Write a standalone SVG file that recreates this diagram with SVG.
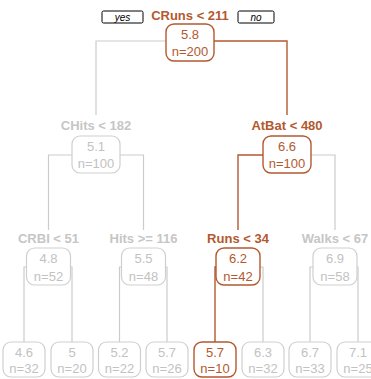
<svg xmlns="http://www.w3.org/2000/svg" width="371" height="379" viewBox="0 0 371 379">
<style>
.c{fill:none;stroke:#CCCCCC;stroke-width:1.2}
.ch{fill:none;stroke:#B3592F;stroke-width:1.4}
.b{fill:#fff;stroke:#CFCFCF;stroke-width:1.2}
.bh{fill:#fff;stroke:#B3592F;stroke-width:1.4}
.t{font-family:"Liberation Sans",Arial,sans-serif;font-size:13px;text-anchor:middle;fill:#C2C2C2}
.th{font-family:"Liberation Sans",Arial,sans-serif;font-size:13px;text-anchor:middle;fill:#B3592F}
.l{font-family:"Liberation Sans",Arial,sans-serif;font-size:13px;font-weight:bold;text-anchor:middle;fill:#C6C6C6}
.lh{font-family:"Liberation Sans",Arial,sans-serif;font-size:13px;font-weight:bold;text-anchor:middle;fill:#B3592F}
.yn{fill:#fff;stroke:#000;stroke-width:1}
.ynt{font-family:"Liberation Sans",Arial,sans-serif;font-size:10px;font-style:italic;text-anchor:middle;fill:#000}
</style>
<rect width="371" height="379" fill="#fff"/>
<g id="connectors">
<path class="c" d="M166,41 H96 V115"/>
<path class="ch" d="M214,41 H287 V115"/>
<path class="c" d="M72,155 H48.5 V230"/>
<path class="c" d="M120,155 H143.5 V230"/>
<path class="ch" d="M263,155 H238 V230"/>
<path class="c" d="M311,155 H335 V230"/>
<path class="c" d="M26.5,267 H24 V342"/>
<path class="c" d="M70.5,267 H72 V342"/>
<path class="c" d="M121.5,267 H119.5 V342"/>
<path class="c" d="M165.5,267 H167 V342"/>
<path class="ch" d="M216,267 H215 V342"/>
<path class="c" d="M260,267 H263 V342"/>
<path class="c" d="M313,267 H310 V342"/>
<path class="c" d="M357,267 H358 V342"/>
</g>
<g id="yesno">
<rect class="yn" x="102" y="11" width="41" height="12" rx="1.5"/>
<text class="ynt" x="122.5" y="20.5">yes</text>
<rect class="yn" x="238" y="11" width="36" height="12" rx="1.5"/>
<text class="ynt" x="256" y="20.5">no</text>
</g>
<g id="root">
<text class="lh" x="190" y="20">CRuns &lt; 211</text>
<rect class="bh" x="166" y="24" width="48" height="37" rx="8"/>
<text class="th" x="190" y="39">5.8</text>
<text class="th" x="190" y="56">n=200</text>
</g>
<g id="chits">
<text class="l" x="96" y="130">CHits &lt; 182</text>
<rect class="b" x="72" y="136" width="48" height="37" rx="8"/>
<text class="t" x="96" y="151">5.1</text>
<text class="t" x="96" y="168">n=100</text>
</g>
<g id="atbat">
<text class="lh" x="287" y="130">AtBat &lt; 480</text>
<rect class="bh" x="263" y="136" width="48" height="37" rx="8"/>
<text class="th" x="287" y="151">6.6</text>
<text class="th" x="287" y="168">n=100</text>
</g>
<g id="crbi">
<text class="l" x="48.5" y="243">CRBI &lt; 51</text>
<rect class="b" x="26.5" y="248" width="44" height="37" rx="8"/>
<text class="t" x="48.5" y="263">4.8</text>
<text class="t" x="48.5" y="281">n=52</text>
</g>
<g id="hits">
<text class="l" x="143.5" y="243">Hits &gt;= 116</text>
<rect class="b" x="121.5" y="248" width="44" height="37" rx="8"/>
<text class="t" x="143.5" y="263">5.5</text>
<text class="t" x="143.5" y="281">n=48</text>
</g>
<g id="runs">
<text class="lh" x="238" y="243">Runs &lt; 34</text>
<rect class="bh" x="216" y="248" width="44" height="37" rx="8"/>
<text class="th" x="238" y="263">6.2</text>
<text class="th" x="238" y="281">n=42</text>
</g>
<g id="walks">
<text class="l" x="335" y="243">Walks &lt; 67</text>
<rect class="b" x="313" y="248" width="44" height="37" rx="8"/>
<text class="t" x="335" y="263">6.9</text>
<text class="t" x="335" y="281">n=58</text>
</g>
<g id="leaf1">
<rect class="b" x="3" y="342" width="42" height="35" rx="8"/>
<text class="t" x="24" y="357">4.6</text>
<text class="t" x="24" y="373">n=32</text>
</g>
<g id="leaf2">
<rect class="b" x="51" y="342" width="42" height="35" rx="8"/>
<text class="t" x="72" y="357">5</text>
<text class="t" x="72" y="373">n=20</text>
</g>
<g id="leaf3">
<rect class="b" x="98.5" y="342" width="42" height="35" rx="8"/>
<text class="t" x="119.5" y="357">5.2</text>
<text class="t" x="119.5" y="373">n=22</text>
</g>
<g id="leaf4">
<rect class="b" x="146" y="342" width="42" height="35" rx="8"/>
<text class="t" x="167" y="357">5.7</text>
<text class="t" x="167" y="373">n=26</text>
</g>
<g id="leaf5">
<rect class="bh" x="194" y="342" width="42" height="35" rx="8"/>
<text class="th" x="215" y="357">5.7</text>
<text class="th" x="215" y="373">n=10</text>
</g>
<g id="leaf6">
<rect class="b" x="242" y="342" width="42" height="35" rx="8"/>
<text class="t" x="263" y="357">6.3</text>
<text class="t" x="263" y="373">n=32</text>
</g>
<g id="leaf7">
<rect class="b" x="289" y="342" width="42" height="35" rx="8"/>
<text class="t" x="310" y="357">6.7</text>
<text class="t" x="310" y="373">n=33</text>
</g>
<g id="leaf8">
<rect class="b" x="337" y="342" width="42" height="35" rx="8"/>
<text class="t" x="358" y="357">7.1</text>
<text class="t" x="358" y="373">n=25</text>
</g>
</svg>
